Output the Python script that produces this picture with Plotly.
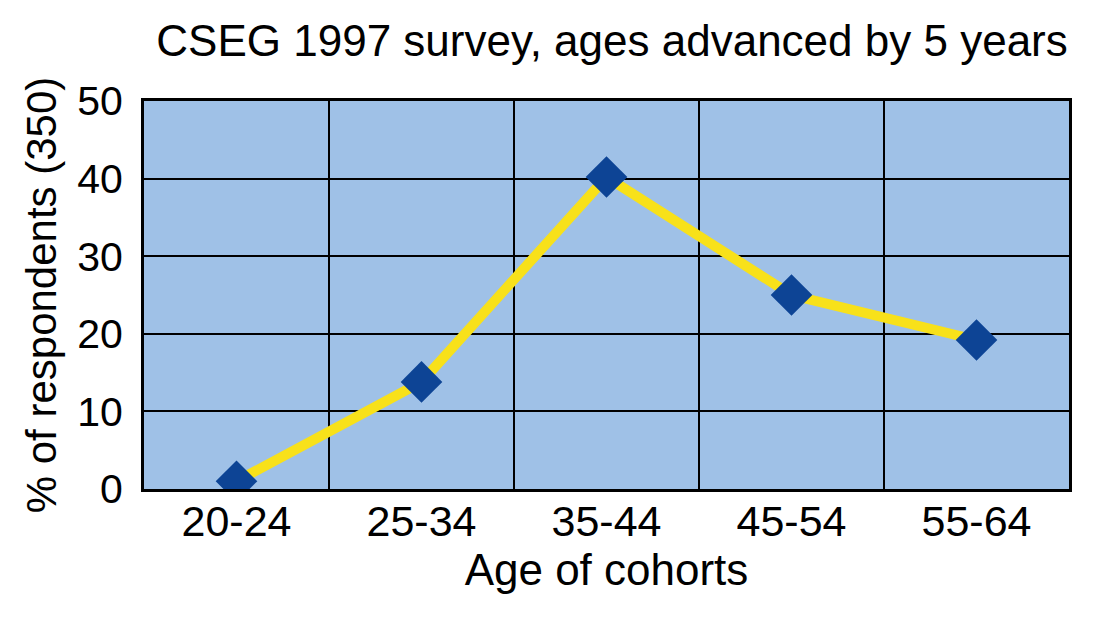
import plotly.graph_objects as go

# Survey data
cohorts = ["20-24", "25-34", "35-44", "45-54", "55-64"]
pct_respondents = [1, 13.8, 40.2, 25, 19.2]
y_ticks = [0, 10, 20, 30, 40, 50]

font_family = "Liberation Sans, Arial, sans-serif"

fig = go.Figure()

fig.add_trace(
    go.Scatter(
        x=list(range(len(cohorts))),
        y=pct_respondents,
        mode="lines+markers",
        line=dict(color="#f8e11a", width=10),
        marker=dict(symbol="diamond", size=32, color="#0d4495"),
        showlegend=False,
    )
)

fig.update_layout(
    width=1100,
    height=620,
    margin=dict(l=136, r=39, t=93, b=139),
    paper_bgcolor="white",
    plot_bgcolor="#9fc1e7",
    font=dict(family=font_family, color="black", size=40),
    title=dict(
        text="CSEG 1997 survey, ages advanced by 5 years",
        x=0.506,
        xref="paper",
        xanchor="center",
        y=0.948,
        yref="container",
        yanchor="middle",
        font=dict(size=44),
    ),
)

fig.update_xaxes(
    range=[-0.5, 4.5],
    tickmode="array",
    tickvals=list(range(len(cohorts))),
    ticktext=cohorts,
    tickfont=dict(size=43),
    ticklabelstandoff=-8,
    showgrid=False,
    zeroline=False,
    showline=True,
    linecolor="black",
    linewidth=3,
    mirror=True,
    ticks="",
    title=dict(text="Age of cohorts", font=dict(size=44), standoff=0),
)

# vertical grid lines between categories via minor ticks
fig.update_xaxes(
    minor=dict(
        tickmode="array",
        tickvals=[0.5, 1.5, 2.5, 3.5],
        showgrid=True,
        gridcolor="black",
        gridwidth=2,
    )
)

fig.update_yaxes(
    range=[0, 50],
    tickmode="array",
    tickvals=y_ticks,
    tickfont=dict(size=41),
    ticklabelstandoff=10,
    showgrid=True,
    gridcolor="black",
    gridwidth=2,
    zeroline=False,
    showline=True,
    linecolor="black",
    linewidth=3,
    mirror=True,
    ticks="",
    title=dict(text="% of respondents (350)", font=dict(size=42), standoff=8),
)

fig.write_html("out.html")
